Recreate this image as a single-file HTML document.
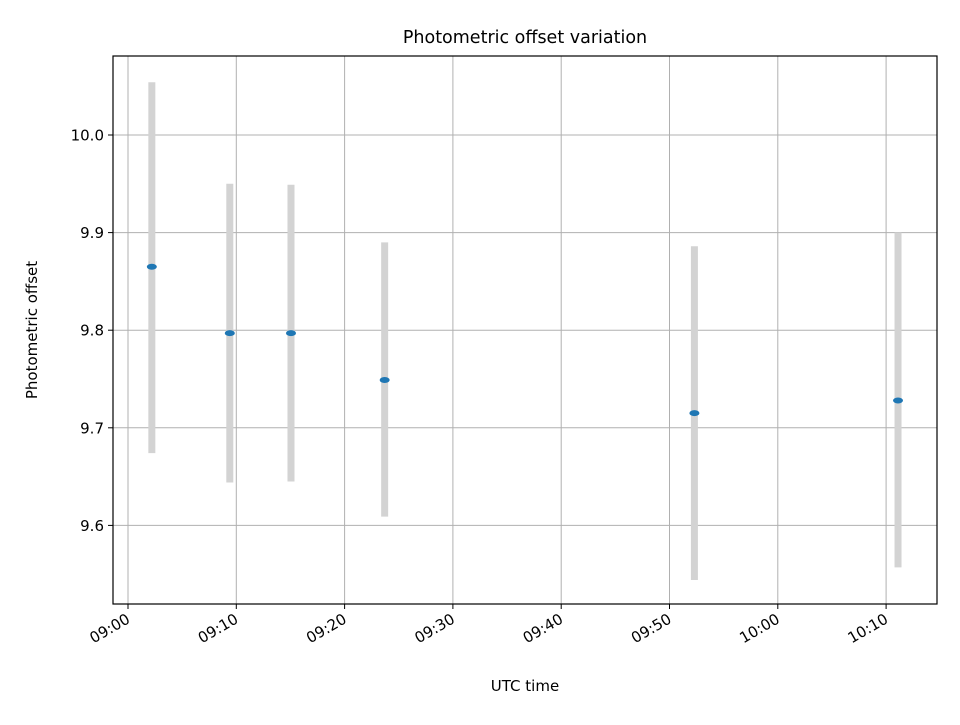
<!DOCTYPE html>
<html><head><meta charset="utf-8"><style>body{margin:0;background:#fff}svg text{font-family:"DejaVu Sans","Liberation Sans",sans-serif}</style></head>
<body>
<svg width="960" height="720" viewBox="0 0 960 720" xmlns="http://www.w3.org/2000/svg">
<rect width="960" height="720" fill="#fff"/>
<g id="grid"></g>
<g id="bars"></g>
<g id="pts"></g>
<rect x="113" y="56" width="824" height="548" fill="none" stroke="#000" stroke-width="1.2"/>
<g id="xt"></g>
<g id="yt"></g>
<text x="525" y="43" font-size="17.5" text-anchor="middle">Photometric offset variation</text>
<text x="525" y="691" font-size="15" text-anchor="middle">UTC time</text>
<text transform="translate(37,330) rotate(-90)" font-size="15" text-anchor="middle">Photometric offset</text>
</svg>
<script>
const times = [2.2, 9.4, 15.05, 23.7, 52.3, 71.1]; // minutes after 09:00
const offsets = [9.865, 9.797, 9.797, 9.749, 9.715, 9.728];
const upper = [10.054, 9.950, 9.949, 9.890, 9.886, 9.900];
const lower = [9.674, 9.644, 9.645, 9.609, 9.544, 9.557];
const xTicks = [0, 10, 20, 30, 40, 50, 60, 70];
const xTickLabels = ["09:00","09:10","09:20","09:30","09:40","09:50","10:00","10:10"];
const yTicks = [9.6, 9.7, 9.8, 9.9, 10.0];
const yTickLabels = ["9.6","9.7","9.8","9.9","10.0"];
const NS="http://www.w3.org/2000/svg";
const xs = m => 128 + m*10.83;
const ys = v => 135 + (10.0 - v)*976;
function mk(tag, attrs, parent){const e=document.createElementNS(NS,tag);for(const k in attrs)e.setAttribute(k,attrs[k]);document.getElementById(parent).appendChild(e);return e;}
xTicks.forEach((t,i)=>{
  const x=xs(t);
  const g=mk('line',{x1:x,x2:x,y1:56,y2:604,stroke:'#b0b0b0','stroke-width':1},'grid');
  
  
  const tk=mk('line',{x1:x,x2:x,y1:604,y2:609,stroke:'#000','stroke-width':1},'xt');
  
  
  const tx=mk('text',{transform:`translate(${x+3},622) rotate(-30)`,'font-size':15,'text-anchor':'end'},'xt');
  tx.textContent=xTickLabels[i];
  
  
});
yTicks.forEach((t,i)=>{
  const y=ys(t);
  const g=mk('line',{x1:113,x2:937,y1:y,y2:y,stroke:'#b0b0b0','stroke-width':1},'grid');
  
  
  const tk=mk('line',{x1:108,x2:113,y1:y,y2:y,stroke:'#000','stroke-width':1},'yt');
  
  
  const tx=mk('text',{x:104,y:y+5.5,'font-size':15,'text-anchor':'end'},'yt');
  tx.textContent=yTickLabels[i];
  
  
});
times.forEach((t,i)=>{
  const x=xs(t);
  const b=mk('line',{x1:x,x2:x,y1:ys(upper[i]),y2:ys(lower[i]),stroke:'#d3d3d3','stroke-width':7},'bars');
  
  
  const p=mk('ellipse',{cx:x,cy:ys(offsets[i]),rx:5,ry:3,fill:'#1f77b4'},'pts');
  
  
});
</script>
</body></html>
